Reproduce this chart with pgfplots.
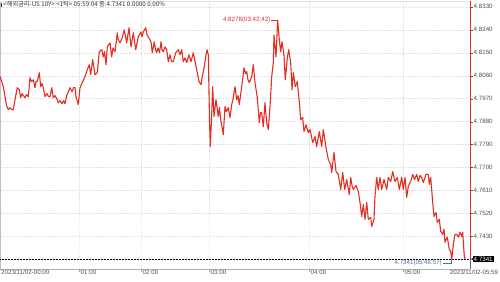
\documentclass[border=0pt]{standalone}
\usepackage{fontspec}
\setmainfont{Liberation Sans}
\newfontfamily\kr{Noto Sans CJK KR}
\usepackage{pgfplots}
\pgfplotsset{compat=1.18}
\definecolor{linered}{RGB}{226,46,34}
\definecolor{gridc}{RGB}{226,226,226}
\definecolor{labc}{RGB}{80,80,80}
\definecolor{lowc}{RGB}{80,115,160}
\newcommand\tf{\fontsize{6.2}{7}\selectfont}
\begin{document}
\begin{tikzpicture}
\begin{axis}[
  at={(0,0)}, anchor=south west,
  scale only axis, width=470pt, height=268pt,
  xmin=0, xmax=470, ymin=4.7302, ymax=4.8353,
  axis x line=bottom, axis y line=right,
  x axis line style={-, draw=gray!60},
  y axis line style={-, draw=linered, line width=0.9pt},
  xtick={79,141,209,309,403}, xticklabels={},
  ytick={4.8330,4.8240,4.8150,4.8060,4.7970,4.7880,4.7790,4.7700,4.7610,4.7520,4.7430},
  yticklabels={4.8330,4.8240,4.8150,4.8060,4.7970,4.7880,4.7790,4.7700,4.7610,4.7520,4.7430},
  yticklabel style={font=\tf, text=labc, inner sep=1pt},
  tick align=outside, major tick length=2.5pt,
  x tick style={draw=gray!70},
  y tick style={draw=labc},
  grid=major, major grid style={dash pattern=on 1.5pt off 1.5pt, draw=gridc, line width=0.4pt},
  clip=false,
]
\draw[gray!50] (axis cs:0,4.7302) -- (axis cs:0,4.8353);
\draw[gray!25] (axis cs:0,4.8353) -- (axis cs:470,4.8353);
\addplot[linered, line width=1.1pt, line join=round, mark=none] coordinates {
(0,4.8057) (3.3,4.8018) (5,4.7979) (6.7,4.7940) (8.3,4.7927) (10,4.7935) (11.5,4.7927) (13.3,4.7927)
(15,4.7966) (17.3,4.8013) (19.3,4.8005) (20.7,4.7974) (22,4.7990) (23.3,4.7982) (25,4.7974) (26.5,4.7986)
(28.3,4.7978) (30,4.8052) (31.5,4.8037) (33.3,4.8044) (35,4.8013) (36,4.8037) (37.3,4.8037) (39.3,4.8072)
(40.7,4.8017) (42,4.8029) (43.3,4.8013) (45,4.7978) (47,4.7990) (48.5,4.7978) (50,4.7978) (51.7,4.8013)
(53.3,4.7974) (55,4.7982) (57.3,4.7966) (58.3,4.7954) (60,4.7962) (62,4.7950) (63.5,4.7962) (65,4.7950)
(66.7,4.7982) (68,4.7994) (70,4.8013) (72,4.7997) (73.5,4.8013) (75,4.8013) (76,4.7978) (78.3,4.7947)
(80,4.8013) (82.7,4.8037) (85,4.8056) (87.3,4.8084) (89.3,4.8103) (90.7,4.8064) (92.7,4.8123) (95,4.8064)
(97.3,4.8072) (99.3,4.8154) (101.7,4.8162) (103.3,4.8134) (104.5,4.8154) (106,4.8103) (107.3,4.8173) (110,4.8189)
(111.7,4.8134) (113,4.8169) (115,4.8154) (117.3,4.8228) (118.3,4.8201) (120,4.8189) (122.3,4.8209) (124.3,4.8240)
(126.7,4.8189) (129,4.8248) (131,4.8173) (133.3,4.8228) (135.7,4.8162) (138.3,4.8213) (141,4.8232) (142,4.8213)
(143.3,4.8232) (145.7,4.8248) (147,4.8220) (148.3,4.8213) (151,4.8193) (152.3,4.8150) (154.3,4.8193) (155.5,4.8162)
(156.7,4.8150) (158,4.8169) (159.5,4.8150) (161,4.8193) (162,4.8162) (163.3,4.8154) (165,4.8173) (166.7,4.8162)
(168.3,4.8115) (170,4.8142) (171.5,4.8115) (173.3,4.8115) (175.7,4.8150) (178.3,4.8162) (180,4.8142) (181.7,4.8162)
(183.3,4.8115) (185,4.8130) (186.7,4.8111) (189,4.8142) (191,4.8115) (193.3,4.8150) (195.7,4.8103) (197.7,4.8064)
(199,4.8037) (201,4.8025) (202.3,4.8056) (204.3,4.8095) (205.7,4.8134) (207,4.8162) (208.3,4.8142) (209.5,4.7888)
(210.3,4.7782) (211.5,4.7888) (212.7,4.8017) (214,4.7900) (216,4.7966) (218.3,4.7900) (219.5,4.7935) (220.7,4.7888)
(223.3,4.7829) (225,4.7939) (226.5,4.7919) (228.3,4.7935) (230,4.7896) (231.7,4.7947) (233,4.7966) (235,4.8017)
(236.7,4.7966) (238,4.7982) (239.3,4.7947) (241.7,4.8017) (244,4.8091) (245.5,4.8068) (246.7,4.8076) (248,4.8044)
(249.3,4.8033) (251.7,4.8056) (253.3,4.8103) (255,4.8033) (257.3,4.7974) (259.3,4.7876) (260.5,4.7915) (261.7,4.7915)
(263.3,4.7860) (265,4.7954) (266.7,4.7876) (268.3,4.7849) (270,4.7939) (271.7,4.8056) (273.3,4.8111) (274,4.8220)
(276,4.8134) (277.7,4.8278) (279.3,4.8201) (280.7,4.8154) (282,4.8193) (284,4.8142) (285.3,4.8044) (287.3,4.8130)
(288.7,4.8162) (290.7,4.8111) (292,4.8005) (293.3,4.8072) (295.3,4.8017) (297.3,4.8037) (299.3,4.7958) (300.7,4.7888)
(302.7,4.7896) (304,4.7841) (306,4.7868) (308.3,4.7837) (310,4.7849) (312.7,4.7798) (315,4.7821) (316.7,4.7782)
(319.3,4.7841) (321.7,4.7782) (323.3,4.7849) (326,4.7778) (328.3,4.7731) (330.7,4.7712) (331.7,4.7680) (334,4.7759)
(336,4.7684) (338.3,4.7673) (340.7,4.7614) (342.7,4.7680) (344.7,4.7614) (346.7,4.7653) (349.3,4.7594) (350.7,4.7661)
(352,4.7630) (353.3,4.7614) (356,4.7630) (358.3,4.7606) (360,4.7563) (361.7,4.7508) (363.3,4.7555) (365,4.7497)
(366.7,4.7563) (368.3,4.7497) (370.7,4.7504) (371.7,4.7469) (374,4.7497) (375,4.7587) (376.7,4.7661) (378.3,4.7614)
(380,4.7661) (381.7,4.7614) (384,4.7653) (386.7,4.7614) (388.3,4.7661) (390.7,4.7645) (392.7,4.7684) (395,4.7645)
(397.3,4.7661) (399.3,4.7614) (401.7,4.7661) (403.3,4.7614) (405,4.7661) (406.7,4.7583) (408.3,4.7626) (410.7,4.7645)
(412.7,4.7673) (414.5,4.7653) (416.7,4.7673) (418.3,4.7645) (420,4.7669) (421.7,4.7661) (423.3,4.7641) (426,4.7673)
(428.3,4.7673) (429.3,4.7634) (430.7,4.7661) (432.7,4.7563) (434,4.7508) (436,4.7524) (437.3,4.7485) (439.3,4.7497)
(440.7,4.7450) (442.7,4.7438) (444,4.7458) (445,4.7407) (447.3,4.7427) (449.3,4.7379) (450.7,4.7371) (451.7,4.7341)
(453.3,4.7399) (455,4.7438) (456.7,4.7438) (458.3,4.7427) (460,4.7446) (461.7,4.7430) (462.7,4.7446) (463.3,4.7407)
(464.3,4.7352) (465,4.7341)
};
% last value line and markers
\draw[densely dotted, black, line width=0.5pt] (axis cs:0,4.7341) -- (axis cs:470,4.7341);
\draw[lowc, line width=0.8pt] (axis cs:470,4.7341) -- (axis cs:470,4.7302);
\node[fill=black, text=white, font=\tf, anchor=west, inner sep=1pt] at (axis cs:472.5,4.7341) {4.7341};
\fill[black] (axis cs:470.5,4.7341) -- (axis cs:473,4.73445) -- (axis cs:473,4.73375) -- cycle;
% peak annotation
\draw[linered, line width=0.5pt] (axis cs:271,4.8278) -- (axis cs:277.5,4.8278);
\node[text=linered, font=\tf, anchor=east, inner sep=0.5pt] at (axis cs:271,4.8278) {4.8278(03:42:42)};
% low annotation
\draw[lowc, line width=0.5pt] (axis cs:442.5,4.7325) -- (axis cs:451.7,4.7325) -- (axis cs:451.7,4.7339);
\node[text=lowc, font=\tf, anchor=east, inner sep=0.5pt] at (axis cs:442.5,4.7325) {4.7341(05:46:57)};
% x labels
\node[font=\tf, text=labc, anchor=north west, inner sep=1pt] at (axis cs:0,4.7302) {2023/11/02-00:00};
\node[font=\tf, text=labc, anchor=north west, inner sep=1pt] at (axis cs:79.5,4.7302) {01:00};
\node[font=\tf, text=labc, anchor=north west, inner sep=1pt] at (axis cs:141.5,4.7302) {02:00};
\node[font=\tf, text=labc, anchor=north west, inner sep=1pt] at (axis cs:209.5,4.7302) {03:00};
\node[font=\tf, text=labc, anchor=north west, inner sep=1pt] at (axis cs:309.5,4.7302) {04:00};
\node[font=\tf, text=labc, anchor=north west, inner sep=1pt] at (axis cs:403.5,4.7302) {05:00};
\node[font=\tf, text=labc, anchor=north, inner sep=1pt] at (axis cs:474,4.7302) {2023/11/02-05:59};
% title
\node[font=\tf, text=black!80, anchor=north west, inner sep=0.5pt] at (axis cs:0.5,4.8353) {\rule{1.2pt}{4pt}\,{\kr <해외금리-US 10Y> <1틱> 05:59:04 종:4.7341 0.0000 0.00\%}};
\end{axis}
\pgfresetboundingbox
\path (0,-12pt) rectangle (500pt,269pt);
\end{tikzpicture}
\end{document}
